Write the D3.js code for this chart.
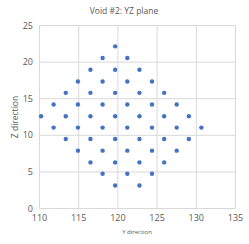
<!DOCTYPE html>
<html lang="en">
	<head>
		<meta charset="utf-8">
		<title> Void #2: YZ plane </title>
		<script type="text/javascript" src="https://cdn.jsdelivr.net/npm/d3@7"></script>
		<style>
		body { margin: 0; background: white; }
		text { font-family: "Open Sans", "Liberation Sans", sans-serif; fill: #595959; }
		</style>
	</head>
	<body>
		<script type="text/javascript">
			var yDir = [119.65,
				118.05, 121.2,
				116.5, 119.65, 122.75,
				114.9, 118.05, 121.2, 124.35,
				113.35, 116.5, 119.65, 122.75, 125.9,
				111.8, 114.9, 118.05, 121.2, 124.35, 127.5,
				110.2, 113.35, 116.5, 119.65, 122.75, 125.9, 129.05,
				111.8, 114.9, 118.05, 121.2, 124.35, 127.5, 130.65,
				113.35, 116.5, 119.65, 122.75, 125.9, 129.05,
				114.9, 118.05, 121.2, 124.35, 127.5,
				116.5, 119.65, 122.75, 125.9,
				118.05, 121.2, 124.35,
				119.65, 122.75];
			var zDir = [22.15,
				20.55, 20.55,
				18.95, 18.95, 18.95,
				17.35, 17.35, 17.35, 17.35,
				15.8, 15.8, 15.8, 15.8, 15.8,
				14.2, 14.2, 14.2, 14.2, 14.2, 14.2,
				12.6, 12.6, 12.6, 12.6, 12.6, 12.6, 12.6,
				11.05, 11.05, 11.05, 11.05, 11.05, 11.05, 11.05,
				9.5, 9.5, 9.5, 9.5, 9.5, 9.5,
				7.9, 7.9, 7.9, 7.9, 7.9,
				6.3, 6.3, 6.3, 6.3,
				4.75, 4.75, 4.75,
				3.15, 3.15];
			var xTicks = [110, 115, 120, 125, 130, 135];
			var yTicks = [0, 5, 10, 15, 20, 25];

			var w = 249;
			var h = 244;

			var svg = d3.select("body").append("svg")
				.attr("width", w)
				.attr("height", h);

			var x = d3.scaleLinear().domain([110, 135]).range([39.5, 235.5]);
			var y = d3.scaleLinear().domain([0, 25]).range([208.5, 25.5]);

			// gridlines
			svg.selectAll("line.vgrid").data(xTicks)
				.enter().append("line")
				.attr("x1", function(d) { return x(d); })
				.attr("x2", function(d) { return x(d); })
				.attr("y1", y(25))
				.attr("y2", y(0))
				.attr("stroke", "#d9d9d9")
				.attr("stroke-width", 1);

			svg.selectAll("line.hgrid").data(yTicks)
				.enter().append("line")
				.attr("x1", x(110))
				.attr("x2", x(135))
				.attr("y1", function(d) { return y(d); })
				.attr("y2", function(d) { return y(d); })
				.attr("stroke", "#d9d9d9")
				.attr("stroke-width", 1);

			// tick labels
			svg.selectAll("text.xt").data(xTicks)
				.enter().append("text")
				.text(function(d) { return d; })
				.attr("x", function(d) { return x(d); })
				.attr("y", 221)
				.attr("text-anchor", "middle")
				.attr("font-size", "9px");

			svg.selectAll("text.yt").data(yTicks)
				.enter().append("text")
				.text(function(d) { return d; })
				.attr("x", 33)
				.attr("y", function(d) { return y(d) + 3; })
				.attr("text-anchor", "end")
				.attr("font-size", "9px");

			// points
			svg.selectAll("circle").data(yDir)
				.enter().append("circle")
				.attr("cx", function(d) { return x(d); })
				.attr("cy", function(d, i) { return y(zDir[i]); })
				.attr("r", 2.2)
				.attr("fill", "#4472c4");

			svg.append("text")
				.text("Void #2: YZ plane")
				.attr("x", 124)
				.attr("y", 14)
				.attr("text-anchor", "middle")
				.attr("font-size", "8.5px");

			svg.append("text")
				.text("Y direction")
				.attr("x", 137)
				.attr("y", 234)
				.attr("text-anchor", "middle")
				.attr("font-size", "6px");

			svg.append("text")
				.text("Z direction")
				.attr("transform", "translate(18,117) rotate(-90)")
				.attr("text-anchor", "middle")
				.attr("font-size", "8.5px");
		</script>
	</body>
</html>
